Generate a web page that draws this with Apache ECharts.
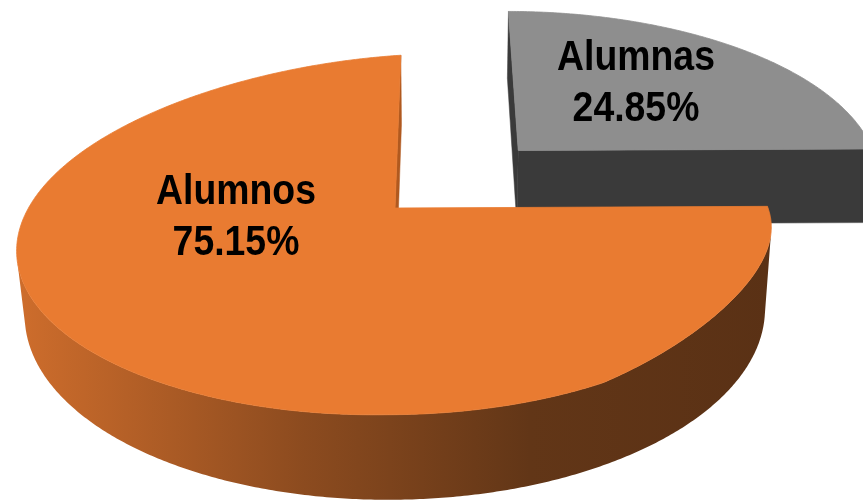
<!DOCTYPE html>
<html>
<head>
<meta charset="utf-8">
<script src="https://cdn.jsdelivr.net/npm/echarts@6/dist/echarts.min.js"></script>
<style>
  html, body { margin: 0; padding: 0; background: #fff; }
  #pie3d { width: 863px; height: 503px; }
</style>
</head>
<body>
<div id="pie3d"></div>
<script>
// datos
const categories = ['Alumnas', 'Alumnos'];
const values = [24.85, 75.15];

// colores de cada rebanada
const topColors = ['#8E8E8E', '#E97B31'];
const cutColors = ['#3A3A3A', '#B0591F'];

// camara: radio = 1, inclinacion 28 grados, algo desplazada a la derecha
const view = { cx: 395, cy: 208, f: 2192.5, D: 5.878, tilt: 28.1, depth: 0.2366, camX: 0.12 };
const startAngle = 270;          // 12 en punto (atras)
const explode = [0.485, 0];
const labelAnchors = [[636, 84], [236, 218]];

const sa = Math.sin(view.tilt * Math.PI / 180);
const ca = Math.cos(view.tilt * Math.PI / 180);
const vx = view.cx + view.f * view.camX / view.D;

// pequeno ajuste del contorno superior (el original no es un circulo perfecto)
function warp(x, y, z) {
    const hf = 1 + y / view.depth;
    let dy = 0;
    if (x < 0) dy += 14 * (-x) * (1 - 0.5 * z);
    let ang = Math.atan2(z, x) * 180 / Math.PI;
    if (ang >= 0 && ang <= 60) dy -= 12 * Math.hypot(x, z) * Math.sin(3 * ang * Math.PI / 180);
    return dy * hf;
}

function project(x, y, z) {
    const d = view.D - (y * sa + z * ca);
    const u = y * ca - z * sa;
    return [vx + view.f * (x - view.camX) / d, view.cy - view.f * u / d + warp(x, y, z)];
}

function area(pts) {
    let s = 0;
    for (let k = 0; k < pts.length; k++) {
        const p = pts[k], q = pts[(k + 1) % pts.length];
        s += p[0] * q[1] - q[0] * p[1];
    }
    return s / 2;
}

function sideGradient(i) {
    if (i === 0) return '#3A3A3A';
    return new echarts.graphic.LinearGradient(0, 0, 1, 0, [
        { offset: 0, color: '#CE6D2C' },
        { offset: 0.38, color: '#8C4B1F' },
        { offset: 0.68, color: '#623617' },
        { offset: 1, color: '#5A3115' }
    ]);
}

function renderItem(params, api) {
    const i = params.dataIndex;
    const total = values.reduce((s, v) => s + v, 0);
    let a0 = startAngle;
    for (let j = 0; j < i; j++) a0 += values[j] / total * 360;
    const a1 = a0 + api.value(0) / total * 360;
    const r0 = a0 * Math.PI / 180, r1 = a1 * Math.PI / 180;
    const mid = (r0 + r1) / 2;
    const ox = explode[i] * Math.cos(mid);
    const oz = explode[i] * Math.sin(mid);
    const t = view.depth;
    const children = [];
    const rimTop = th => project(ox + Math.cos(th), 0, oz + Math.sin(th));
    const rimBot = th => project(ox + Math.cos(th), -t, oz + Math.sin(th));
    const cTop = project(ox, 0, oz), cBot = project(ox, -t, oz);

    // caras de corte (solo las que miran a la camara)
    const cutFaces = [
        [rimTop(r0), cTop, cBot, rimBot(r0)],
        [cTop, rimTop(r1), rimBot(r1), cBot]
    ];
    cutFaces.forEach(function (pts) {
        if (area(pts) > 1) {
            children.push({
                type: 'polygon',
                shape: { points: pts },
                style: { fill: cutColors[i], stroke: cutColors[i], lineWidth: 0.5 }
            });
        }
    });

    // lado exterior visible
    const n = Math.ceil((a1 - a0) / 0.5);
    const ths = [];
    for (let k = 0; k <= n; k++) ths.push(r0 + (r1 - r0) * k / n);
    const runs = [];
    let run = [];
    for (let k = 0; k < n; k++) {
        const quad = [rimTop(ths[k]), rimTop(ths[k + 1]), rimBot(ths[k + 1]), rimBot(ths[k])];
        if (area(quad) < 0) {
            if (!run.length) run.push(ths[k]);
            run.push(ths[k + 1]);
        } else if (run.length) { runs.push(run); run = []; }
    }
    if (run.length) runs.push(run);
    runs.forEach(function (rr) {
        const pts = rr.map(rimTop);
        for (let k = rr.length - 1; k >= 0; k--) pts.push(rimBot(rr[k]));
        children.push({
            type: 'polygon',
            shape: { points: pts },
            style: { fill: sideGradient(i) }
        });
    });

    // cara superior
    const topPts = [cTop].concat(ths.map(rimTop));
    children.push({
        type: 'polygon',
        shape: { points: topPts },
        style: { fill: topColors[i], stroke: topColors[i], lineWidth: 0.8 }
    });

    // etiqueta
    children.push({
        type: 'text',
        x: labelAnchors[i][0],
        y: labelAnchors[i][1],
        scaleX: 0.89,
        style: {
            text: categories[i] + '\n' + values[i].toFixed(2) + '%',
            fill: '#000',
            fontSize: 42,
            fontWeight: 'bold',
            fontFamily: '"Liberation Sans", Arial, sans-serif',
            lineHeight: 51,
            align: 'center',
            verticalAlign: 'middle'
        }
    });

    return { type: 'group', children: children };
}

let myChart = echarts.init(document.getElementById('pie3d'));
const option = {
    animation: false,
    series: [{
        type: 'custom',
        coordinateSystem: 'none',
        renderItem: renderItem,
        data: values.map(v => [v])
    }]
};
myChart.setOption(option);
</script>
</body>
</html>
